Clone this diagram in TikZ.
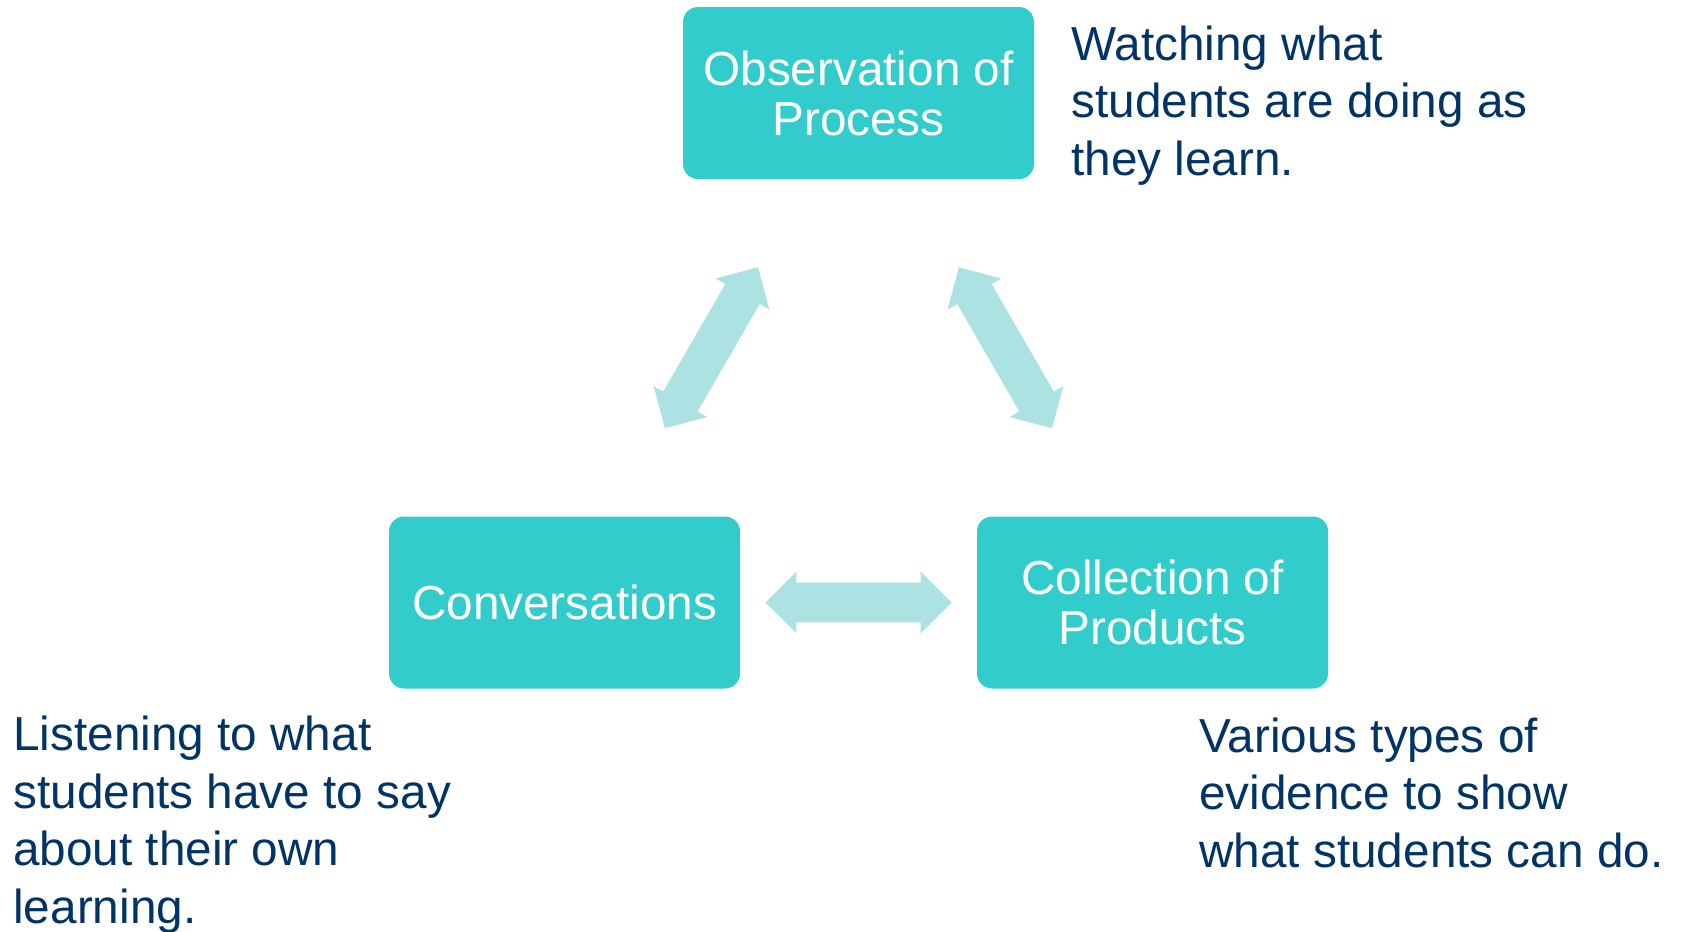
\documentclass[tikz,border=0pt]{standalone}
\usepackage{fontspec}
\setmainfont{Liberation Sans}
\usetikzlibrary{calc,shapes.arrows}

\definecolor{boxteal}{HTML}{33CCCC}
\definecolor{arrowteal}{HTML}{ADE2E2}
\definecolor{notenavy}{HTML}{003366}

\begin{document}
\begin{tikzpicture}[x=0.5pt,y=-0.5pt,
  box node/.style={rectangle,rounded corners=7.5pt,fill=boxteal,text=white,
    minimum width=175.5pt,minimum height=86pt,inner sep=0pt,align=center,
    font=\fontsize{23.85}{25}\selectfont},
  note node/.style={align=left,inner sep=0pt,anchor=base west,text=notenavy,
    font=\fontsize{23.85}{28.75}\selectfont},
  link/.style={double arrow,fill=arrowteal,sloped,inner xsep=0pt,inner ysep=9.75pt,
    minimum height=93pt,minimum width=30.5pt,double arrow head extend=5.5pt}]

\useasboundingbox[fill=white] (0,0) rectangle (1682,932);

\node[box node](C) at (564.5,602.5) {Conversations};
\node[box node](P) at ($(C) + (588,0)$) {Collection of\\Products};
\node[box node](O) at ($(C)!0.5!(P) + (0,-509.5)$) {Observation of\\Process};

% notes sit on the baseline of their last line
\node[note node](W) at (1071,175) {Watching what\\students are doing as\\they learn.};
\node[note node](L) at (13,923) {Listening to what\\students have to say\\about their own\\learning.};
\node[note node](V) at (1199,867) {Various types of\\evidence to show\\what students can do.};

\path
(C) -- node[link]{} (P)
(C) -- node[link]{} (O)
(O) -- node[link]{} (P);

\end{tikzpicture}
\end{document}
